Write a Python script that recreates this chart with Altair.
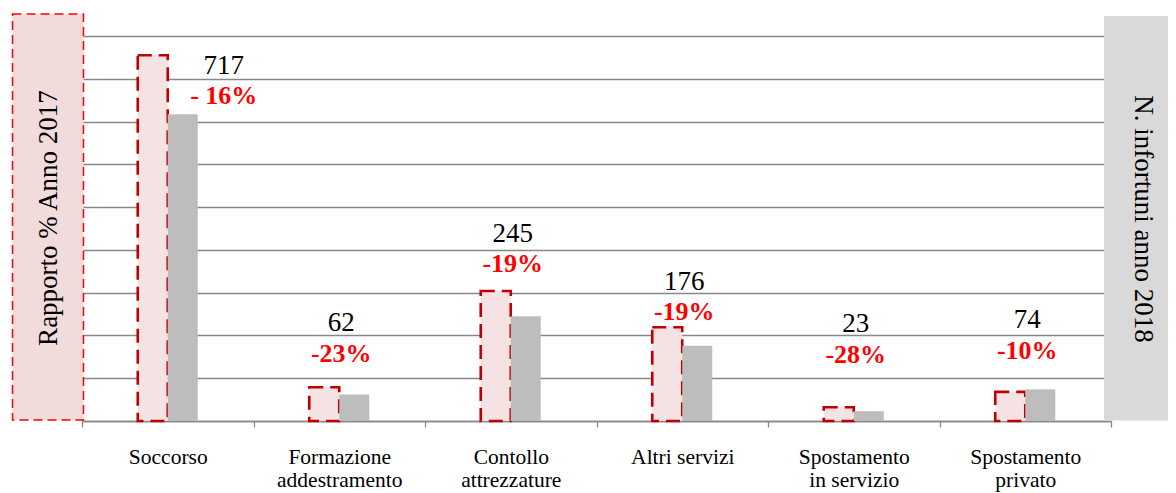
import altair as alt
import pandas as pd

# ---- data ----
categories = ["Soccorso", "Formazione|addestramento", "Contollo|attrezzature",
              "Altri servizi", "Spostamento|in servizio", "Spostamento|privato"]
values_2017 = [855, 79, 304, 219, 32, 68]
values_2018 = [717, 62, 245, 176, 23, 74]
count_labels = ["717", "62", "245", "176", "23", "74"]
pct_labels = ["- 16%", "-23%", "-19%", "-19%", "-28%", "-10%"]
label_level = [831, 228, 438, 325, 226, 236]
grid_values = [0, 100, 200, 300, 400, 500, 600, 700, 800, 900]
left_title = "Rapporto %  Anno 2017"
right_title = "N. infortuni anno 2018"

bars = pd.DataFrame({
    "cat": categories * 2,
    "series": ["2017"] * len(categories) + ["2018"] * len(categories),
    "value": values_2017 + values_2018,
})
labels = pd.DataFrame({
    "cat": categories,
    "count": count_labels,
    "pct": pct_labels,
    "level": label_level,
})

FONT = "Liberation Serif"
GRID = "#878787"

x_enc = alt.X(
    "cat:N", sort=categories,
    scale=alt.Scale(paddingInner=0, paddingOuter=0),
    axis=alt.Axis(
        title=None, labelAngle=0, labelExpr="split(datum.label, '|')",
        labelFont=FONT, labelFontSize=21.5, labelColor="black",
        labelLineHeight=23, labelPadding=19, labelOverlap=False,
        tickBand="extent", tickSize=6, tickColor=GRID, tickWidth=1.3,
        domainColor=GRID, domainWidth=1.3, grid=False,
    ),
)
y_scale = alt.Scale(domain=[0, 900], nice=False, zero=True)
y_axis = alt.Axis(values=grid_values, labels=False, ticks=False, domain=False,
                  title=None, grid=True, gridColor=GRID, gridWidth=1.3)
# two empty slots around the pair of bars keep them narrow and centred
off_enc = alt.XOffset("series:N",
                      scale=alt.Scale(domain=["_a", "2017", "2018", "_b"],
                                      paddingInner=0, paddingOuter=0.858))

base = alt.Chart(bars)

bar_2017 = base.transform_filter(alt.datum.series == "2017").mark_bar(
    fill="#F5E3E3", stroke="#C00000", strokeWidth=2.6, strokeDash=[14, 7]
).encode(x=x_enc, xOffset=off_enc, y=alt.Y("value:Q", scale=y_scale, axis=y_axis))

bar_2018 = base.transform_filter(alt.datum.series == "2018").mark_bar(
    fill="#BDBDBD"
).encode(x=x_enc, xOffset=off_enc, y=alt.Y("value:Q", scale=y_scale, axis=y_axis))

lab = alt.Chart(labels)
first = alt.datum.cat == categories[0]
rest = alt.datum.cat != categories[0]

def count_layer(flt, dx):
    return lab.transform_filter(flt).mark_text(
        font=FONT, fontSize=27, color="black", baseline="middle", align="center", dx=dx
    ).encode(x=alt.X("cat:N", sort=categories), y=alt.Y("level:Q", scale=y_scale), text="count:N")

def pct_layer(flt, dx):
    return lab.transform_filter(flt).mark_text(
        font=FONT, fontSize=26, fontWeight="bold", color="#FF0000",
        baseline="middle", align="center", dx=dx, dy=30.5
    ).encode(x=alt.X("cat:N", sort=categories), y=alt.Y("level:Q", scale=y_scale), text="pct:N")

left_box = alt.Chart(pd.DataFrame({"t": [left_title]})).mark_rect(
    fill="#F2DCDB", stroke="#FF0000", strokeWidth=1.5, strokeDash=[9, 5]
).encode(x=alt.value(-69.5), x2=alt.value(1.5), y=alt.value(-22), y2=alt.value(384))
left_text = alt.Chart(pd.DataFrame({"t": [left_title]})).mark_text(
    font=FONT, fontSize=27, color="black", angle=270, align="center", baseline="middle"
).encode(x=alt.value(-33), y=alt.value(182), text="t:N")

right_box = alt.Chart(pd.DataFrame({"t": [right_title]})).mark_rect(
    fill="#D9D9D9"
).encode(x=alt.value(1022), x2=alt.value(1086), y=alt.value(-20), y2=alt.value(384.5))
right_text = alt.Chart(pd.DataFrame({"t": [right_title]})).mark_text(
    font=FONT, fontSize=27, color="black", angle=90, align="center", baseline="middle"
).encode(x=alt.value(1061), y=alt.value(183), text="t:N")

chart = alt.layer(
    bar_2017, bar_2018,
    left_box, left_text, right_box, right_text,
    count_layer(first, 56), count_layer(rest, 2),
    pct_layer(first, 56), pct_layer(rest, 2),
).properties(
    width=1029, height=385,
    padding={"left": 74, "top": 28, "right": 57, "bottom": 72},
    autosize=alt.AutoSizeParams(type="none"),
).configure_view(stroke=None)

chart.save("out.html", embed_options={"renderer": "svg", "actions": False})
